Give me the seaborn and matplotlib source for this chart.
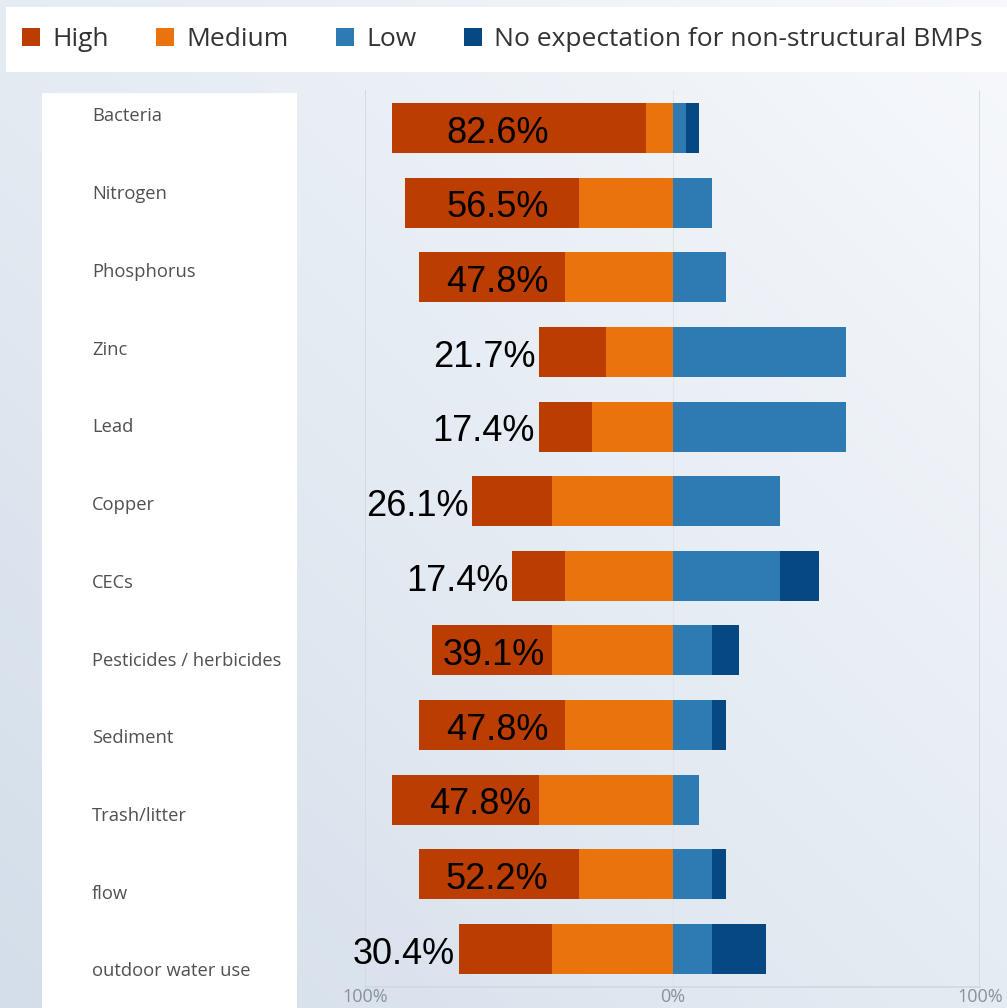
import numpy as np
import pandas as pd
import matplotlib
matplotlib.use("Agg")
import matplotlib.pyplot as plt
import seaborn as sns
from matplotlib.patches import Patch
from matplotlib.colors import to_rgb

# Expected performance of non-structural BMPs, share of responses per pollutant
categories = ["Bacteria", "Nitrogen", "Phosphorus", "Zinc", "Lead", "Copper", "CECs",
              "Pesticides / herbicides", "Sediment", "Trash/litter", "flow",
              "outdoor water use"]
high = [82.6, 56.5, 47.8, 21.7, 17.4, 26.1, 17.4, 39.1, 47.8, 47.8, 52.2, 30.4]
medium = [8.7, 30.4, 34.8, 21.7, 26.1, 39.1, 34.8, 39.1, 34.8, 43.5, 30.4, 39.1]
low = [4.3, 13.0, 17.4, 56.5, 56.5, 34.8, 34.8, 13.0, 13.0, 8.7, 13.0, 13.0]
no_expectation = [4.3, 0, 0, 0, 0, 0, 13.0, 8.7, 4.3, 0, 4.3, 17.4]

series_names = ["High", "Medium", "Low", "No expectation for non-structural BMPs"]
tick_values = [-100, 0, 100]
tick_labels = ["100%", "0%", "100%"]

C_HIGH = "#bb3d02"
C_MED = "#eb730e"
C_LOW = "#2e7ab3"
C_NONE = "#064882"

df = pd.DataFrame({
    "category": categories,
    "high": high, "medium": medium, "low": low, "none": no_expectation,
})
df["left_total"] = -(df["high"] + df["medium"])
df["left_medium"] = -df["medium"]
df["right_total"] = df["low"] + df["none"]
df["right_low"] = df["low"]

sns.set_theme(style="white")
plt.rcParams["font.family"] = ["Open Sans", "DejaVu Sans"]

W, H = 1007, 1008
fig = plt.figure(figsize=(W / 100, H / 100), dpi=100)

# soft diagonal background wash
bg = fig.add_axes([0, 0, 1, 1], zorder=-10)
gx, gy = np.meshgrid(np.linspace(0, 1, 200), np.linspace(0, 1, 200))
t = 0.5 * (1 - gx) + 0.5 * gy
light = np.array(to_rgb("#f7f9fc"))
dark = np.array(to_rgb("#d3deea"))
img = light[None, None, :] * (1 - t[..., None]) + dark[None, None, :] * t[..., None]
bg.imshow(img, extent=[0, 1, 0, 1], origin="upper", aspect="auto")
bg.set_axis_off()

def fig_rect(x0, y0, x1, y1):
    return [x0 / W, 1 - y1 / H, (x1 - x0) / W, (y1 - y0) / H]

# legend strip
lax = fig.add_axes(fig_rect(6, 7, 1007, 72))
lax.set_facecolor("white")
lax.set_xticks([]); lax.set_yticks([])
for s in lax.spines.values():
    s.set_visible(False)
handles = [Patch(facecolor=c, edgecolor="none") for c in (C_HIGH, C_MED, C_LOW, C_NONE)]
lax.legend(handles, series_names, loc="center left", bbox_to_anchor=(0.016, 0.5),
           ncol=4, frameon=False, fontsize=19, handlelength=0.68, handleheight=0.68,
           handletextpad=0.48, columnspacing=1.78, borderaxespad=0, borderpad=0,
           labelcolor="#333333")

# category label panel
cax = fig.add_axes(fig_rect(42, 93, 297, 1008))
cax.set_facecolor("white")
cax.set_xticks([]); cax.set_yticks([])
for s in cax.spines.values():
    s.set_visible(False)
cax.set_xlim(0, 1)
cax.set_ylim(11.47, -0.30)
for i, cat in enumerate(categories):
    cax.text(0.196, i, cat, ha="left", va="center", fontsize=13.2, color="#505050")

# diverging stacked bars
ax = fig.add_axes(fig_rect(365, 90, 980, 987))
ax.set_facecolor("none")
bar_kw = dict(y="category", orient="h", width=0.67, linewidth=0, saturation=1, ax=ax)
sns.barplot(data=df, x="left_total", color=C_HIGH, **bar_kw)
sns.barplot(data=df, x="left_medium", color=C_MED, **bar_kw)
sns.barplot(data=df, x="right_total", color=C_NONE, **bar_kw)
sns.barplot(data=df, x="right_low", color=C_LOW, **bar_kw)

ax.set_xlim(-100, 100)
ax.set_ylim(11.51, -0.51)
ax.set_xlabel(""); ax.set_ylabel("")
ax.set_yticks([])
ax.set_xticks(tick_values)
ax.set_xticklabels(tick_labels)
ax.tick_params(axis="x", length=0, pad=1, labelsize=13, labelcolor="#8a9199")
for xv in (-100, 100):
    ax.axvline(xv, color="#d2d8df", lw=1.2, zorder=0)
ax.axvline(0, color="#dfe4ea", lw=0.8, zorder=0)
for name, s in ax.spines.items():
    s.set_visible(name == "bottom")
ax.spines["bottom"].set_color("#d2d8df")
ax.spines["bottom"].set_linewidth(1.2)

# share of "High" responses written on each row: inside the High segment when it
# is wide enough, otherwise just to the left of the bar
LABEL_CENTER = -57
HALF_LABEL = 16.5
for i, (h, m) in enumerate(zip(high, medium)):
    label = f"{h:.1f}%"
    kw = dict(va="center", fontsize=26, family="Liberation Sans", color="black", zorder=5)
    if h >= 35:
        xc = min(LABEL_CENTER, -m - HALF_LABEL - 2.5)
        ax.text(xc, i + 0.07, label, ha="center", **kw)
    else:
        ax.text(-(m + h) - 1.2, i + 0.07, label, ha="right", **kw)

fig.savefig("out.png", dpi=100)
